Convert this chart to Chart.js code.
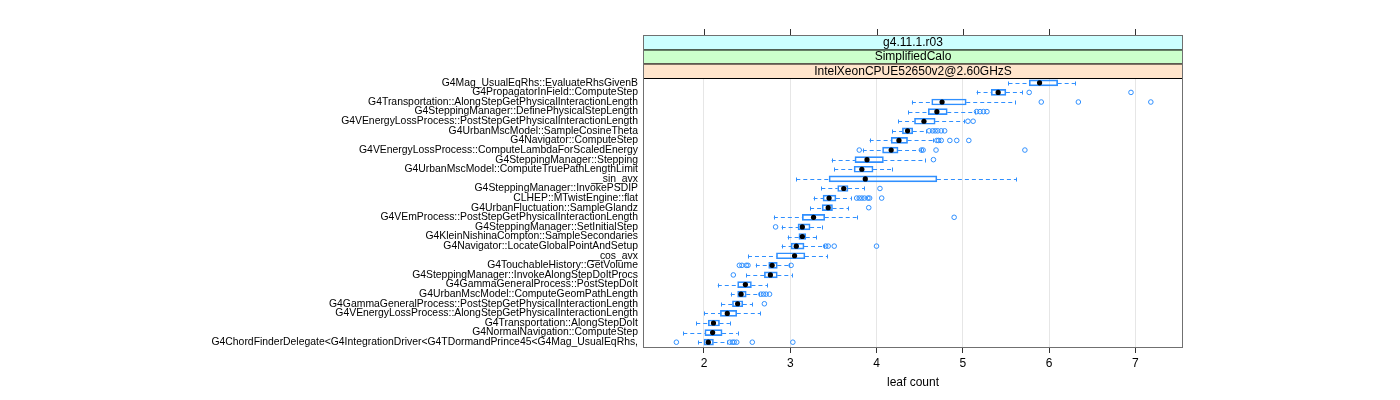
<!DOCTYPE html>
<html>
<head>
<meta charset="utf-8">
<script src="https://cdn.jsdelivr.net/npm/chart.js@4"></script>
<style>
  body { margin: 0; background: #fff; }
  #wrap { width: 1400px; height: 400px; }
</style>
</head>
<body>
<div id="wrap"><canvas id="myChart" width="1400" height="400"></canvas></div>
<script>
// functions, top to bottom
var categories = [
  "G4Mag_UsualEqRhs::EvaluateRhsGivenB",
  "G4PropagatorInField::ComputeStep",
  "G4Transportation::AlongStepGetPhysicalInteractionLength",
  "G4SteppingManager::DefinePhysicalStepLength",
  "G4VEnergyLossProcess::PostStepGetPhysicalInteractionLength",
  "G4UrbanMscModel::SampleCosineTheta",
  "G4Navigator::ComputeStep",
  "G4VEnergyLossProcess::ComputeLambdaForScaledEnergy",
  "G4SteppingManager::Stepping",
  "G4UrbanMscModel::ComputeTruePathLengthLimit",
  "__sin_avx",
  "G4SteppingManager::InvokePSDIP",
  "CLHEP::MTwistEngine::flat",
  "G4UrbanFluctuation::SampleGlandz",
  "G4VEmProcess::PostStepGetPhysicalInteractionLength",
  "G4SteppingManager::SetInitialStep",
  "G4KleinNishinaCompton::SampleSecondaries",
  "G4Navigator::LocateGlobalPointAndSetup",
  "__cos_avx",
  "G4TouchableHistory::GetVolume",
  "G4SteppingManager::InvokeAlongStepDoItProcs",
  "G4GammaGeneralProcess::PostStepDoIt",
  "G4UrbanMscModel::ComputeGeomPathLength",
  "G4GammaGeneralProcess::PostStepGetPhysicalInteractionLength",
  "G4VEnergyLossProcess::AlongStepGetPhysicalInteractionLength",
  "G4Transportation::AlongStepDoIt",
  "G4NormalNavigation::ComputeStep",
  "G4ChordFinderDelegate<G4IntegrationDriver<G4TDormandPrince45<G4Mag_UsualEqRhs,"
];

var whiskerLow  = [5.53, 5.16, 4.41, 4.37, 4.25, 4.18, 3.92, 3.84, 3.48, 3.51, 3.07, 3.36, 3.27, 3.23, 2.81, 2.90, 2.97, 2.90, 2.51, 2.60, 2.49, 2.16, 2.31, 2.20, 2.00, 1.91, 1.76, 1.93];
var boxLow      = [5.77, 5.33, 4.64, 4.60, 4.44, 4.30, 4.17, 4.07, 3.75, 3.74, 3.45, 3.55, 3.38, 3.37, 3.14, 3.09, 3.10, 3.01, 2.84, 2.75, 2.70, 2.39, 2.39, 2.33, 2.19, 2.05, 2.01, 2.00];
var medians     = [5.89, 5.41, 4.76, 4.70, 4.55, 4.36, 4.26, 4.17, 3.89, 3.83, 3.87, 3.62, 3.45, 3.44, 3.27, 3.14, 3.14, 3.07, 3.05, 2.79, 2.77, 2.48, 2.43, 2.39, 2.27, 2.11, 2.10, 2.05];
var boxHigh     = [6.10, 5.50, 5.04, 4.82, 4.68, 4.42, 4.36, 4.25, 4.08, 3.96, 4.70, 3.67, 3.53, 3.49, 3.40, 3.23, 3.18, 3.16, 3.17, 2.85, 2.85, 2.55, 2.49, 2.45, 2.38, 2.18, 2.21, 2.11];
var whiskerHigh = [6.30, 5.69, 5.60, 5.14, 5.02, 4.57, 4.65, 4.51, 4.56, 4.18, 5.62, 3.86, 3.70, 3.67, 3.77, 3.37, 3.30, 3.39, 3.43, 2.99, 3.02, 2.73, 2.64, 2.56, 2.65, 2.30, 2.39, 2.27];
var outliers = [
  [],
  [5.77, 6.95],
  [5.91, 6.34, 7.18],
  [5.16, 5.20, 5.24, 5.28],
  [5.06, 5.12],
  [4.61, 4.65, 4.68, 4.71, 4.75, 4.79],
  [4.70, 4.72, 4.75, 4.85, 4.93, 5.07],
  [3.80, 4.52, 4.54, 4.69, 5.72],
  [4.66],
  [],
  [],
  [4.04],
  [3.77, 3.80, 3.83, 3.86, 3.90, 3.92, 4.06],
  [3.91],
  [4.90],
  [2.83],
  [],
  [3.41, 3.44, 3.51, 4.00],
  [],
  [2.41, 2.44, 2.49, 2.51, 3.01],
  [2.34],
  [],
  [2.66, 2.69, 2.72, 2.76],
  [2.70],
  [],
  [],
  [],
  [1.68, 2.30, 2.33, 2.35, 2.38, 2.56, 3.03]
];
var xTicks = [2, 3, 4, 5, 6, 7];
var strips = ["g4.11.1.r03", "SimplifiedCalo", "IntelXeonCPUE52650v2@2.60GHzS"];
var stripColors = ["#ccffff", "#ccffcc", "#ffe5cc"];

var blue = "#2f8fff";

var boxData = categories.map(function (c, i) { return [boxLow[i], boxHigh[i]]; });
var medianData = categories.map(function (c, i) { return { x: medians[i], y: c }; });
var outlierData = [];
outliers.forEach(function (list, i) {
  list.forEach(function (v) { outlierData.push({ x: v, y: categories[i] }); });
});

// dashed whiskers with end caps, drawn behind the boxes
var whiskers = {
  id: "whiskers",
  beforeDatasetsDraw: function (chart) {
    var ctx = chart.ctx, xs = chart.scales.x, ys = chart.scales.y;
    ctx.save();
    ctx.strokeStyle = blue;
    ctx.lineWidth = 1;
    categories.forEach(function (c, i) {
      var y = Math.round(ys.getPixelForValue(i)) + 0.5;
      var a = xs.getPixelForValue(whiskerLow[i]), b = xs.getPixelForValue(boxLow[i]);
      var d = xs.getPixelForValue(boxHigh[i]), e = xs.getPixelForValue(whiskerHigh[i]);
      ctx.setLineDash([4, 3]);
      ctx.beginPath();
      ctx.moveTo(a, y); ctx.lineTo(b, y);
      ctx.moveTo(d, y); ctx.lineTo(e, y);
      ctx.stroke();
      ctx.setLineDash([]);
      ctx.beginPath();
      ctx.moveTo(Math.round(a) + 0.5, y - 2); ctx.lineTo(Math.round(a) + 0.5, y + 2);
      ctx.moveTo(Math.round(e) + 0.5, y - 2); ctx.lineTo(Math.round(e) + 0.5, y + 2);
      ctx.stroke();
    });
    ctx.restore();
  }
};

// strips above the panel, top ticks and panel frame
var panel = {
  id: "panel",
  afterDraw: function (chart) {
    var ctx = chart.ctx, a = chart.chartArea, xs = chart.scales.x;
    var tops = [35, 49.5, 63.5, 78];
    ctx.save();
    for (var k = 0; k < strips.length; k++) {
      ctx.fillStyle = stripColors[k];
      ctx.fillRect(a.left, tops[k], a.right - a.left, tops[k + 1] - tops[k]);
      ctx.strokeStyle = "#000";
      ctx.lineWidth = 1;
      ctx.strokeRect(a.left + 0.5, tops[k] + 0.5, a.right - a.left - 1, tops[k + 1] - tops[k]);
      ctx.fillStyle = "#000";
      ctx.font = "12px 'Liberation Sans', Arial, sans-serif";
      ctx.textAlign = "center";
      ctx.textBaseline = "middle";
      ctx.fillText(strips[k], (a.left + a.right) / 2, (tops[k] + tops[k + 1]) / 2 + 0.5);
    }
    ctx.strokeStyle = "#707070";
    ctx.strokeRect(a.left + 0.5, 35.5, a.right - a.left - 1, a.bottom - 35);
    ctx.strokeStyle = "#333";
    ctx.beginPath();
    xTicks.forEach(function (t) {
      var x = Math.round(xs.getPixelForValue(t)) + 0.5;
      ctx.moveTo(x, 29); ctx.lineTo(x, 35);
    });
    ctx.stroke();
    ctx.restore();
  }
};

Chart.defaults.font.family = "'Liberation Sans', Arial, sans-serif";
Chart.defaults.color = "#000";

new Chart("myChart", {
  type: "bar",
  data: {
    labels: categories,
    datasets: [
      {
        type: "scatter",
        data: outlierData,
        pointStyle: "circle",
        pointRadius: 2.3,
        borderColor: blue,
        backgroundColor: "rgba(0,0,0,0)",
        borderWidth: 1,
        order: 0
      },
      {
        type: "scatter",
        data: medianData,
        pointRadius: 2.6,
        borderWidth: 0,
        backgroundColor: "#000",
        order: -1
      },
      {
        data: boxData,
        backgroundColor: "rgba(0,0,0,0)",
        borderColor: blue,
        borderWidth: 1,
        borderSkipped: false,
        barThickness: 6,
        order: 1
      }
    ]
  },
  options: {
    indexAxis: "y",
    responsive: false,
    animation: false,
    layout: { padding: { left: 0, right: 217, top: 78, bottom: 0 } },
    plugins: { legend: { display: false }, tooltip: { enabled: false } },
    scales: {
      x: {
        type: "linear",
        min: 1.293,
        max: 7.553,
        afterBuildTicks: function (s) { s.ticks = xTicks.map(function (v) { return { value: v }; }); },
        afterFit: function (s) { s.height = 53; },
        grid: { color: "#e6e6e6", tickColor: "#333", tickLength: 6, drawTicks: true },
        border: { display: false },
        ticks: { font: { size: 12 }, padding: 3, maxRotation: 0 },
        title: { display: true, text: "leaf count", font: { size: 12 }, padding: { top: 0, bottom: 10 } }
      },
      y: {
        type: "category",
        offset: true,
        afterFit: function (s) { s.width = 643; },
        grid: { display: false, drawTicks: false },
        border: { display: false },
        ticks: { font: { size: 10.4 }, padding: 5, autoSkip: false }
      }
    }
  },
  plugins: [whiskers, panel]
});
</script>
</body>
</html>
